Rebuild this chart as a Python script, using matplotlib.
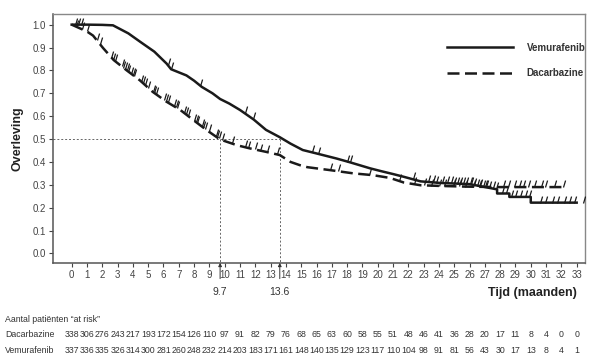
import numpy as np
import matplotlib
matplotlib.use("Agg")
import matplotlib.pyplot as plt
from matplotlib.path import Path
from matplotlib.transforms import blended_transform_factory

plt.rcParams['font.family'] = ['Liberation Sans', 'DejaVu Sans']

# Kaplan-Meier curves
vem_t = [0, 1.0, 2.0, 2.7, 3.7, 4.5, 5.4, 6.2, 6.5, 7.5, 8.0, 8.5, 9.2, 9.7, 10.3,
         11.0, 11.9, 12.7, 13.6, 14.3, 15.1, 16.0, 17.3, 18.2, 19.5, 20.2, 21.0,
         21.7, 22.8, 24.1, 26.0, 27.8, 27.8, 28.6, 28.6, 30.0, 30.0, 33.0]
vem_s = [1.0, 1.0, 0.999, 0.997, 0.962, 0.924, 0.882, 0.83, 0.805, 0.778, 0.755,
         0.728, 0.70, 0.675, 0.655, 0.627, 0.585, 0.54, 0.508, 0.48, 0.452, 0.437,
         0.415, 0.398, 0.372, 0.36, 0.347, 0.335, 0.315, 0.308, 0.303, 0.28,
         0.262, 0.262, 0.247, 0.247, 0.222, 0.222]
dac_t = [0, 0.5, 1.0, 1.4, 2.05, 2.75, 3.6, 4.45, 5.3, 6.2, 7.1, 7.95, 8.8, 9.7,
         10.8, 11.65, 12.7, 13.6, 14.3, 14.9, 15.4, 16.9, 18.4, 19.7, 20.8,
         21.7, 22.8, 24.1, 25.8, 27.8, 32.1]
dac_s = [1.0, 0.985, 0.97, 0.952, 0.898, 0.845, 0.80, 0.757, 0.706, 0.663, 0.627,
         0.583, 0.54, 0.498, 0.473, 0.459, 0.444, 0.43, 0.40, 0.386, 0.377, 0.364,
         0.35, 0.342, 0.33, 0.31, 0.298, 0.295, 0.292, 0.29, 0.29]

# censoring times
vem_cens = [0.2, 0.4, 0.6, 6.3, 6.5, 8.4, 11.3, 11.85, 15.7, 16.1, 18.0, 18.2,
            22.3, 23.3, 23.6, 23.8, 24.2, 24.5, 24.8, 25.0, 25.2, 25.4, 25.6,
            25.8, 26.0, 26.1, 26.3, 26.5, 26.7, 26.9, 27.1, 27.3, 27.5, 27.7,
            28.1, 28.4, 28.7, 29.0, 29.3, 29.6, 29.9, 30.6, 30.9, 31.4, 31.7,
            32.2, 32.5, 32.8, 33.4]
dac_cens = [0.3, 0.65, 0.98, 1.63, 1.85, 2.6, 2.72, 2.83, 3.27, 3.38, 3.48, 3.6,
            3.7, 3.9, 4.0, 4.1, 4.55, 4.66, 4.77, 4.99, 5.3, 5.4, 5.5, 6.05,
            6.16, 6.27, 6.7, 6.8, 6.9, 7.36, 7.46, 7.57, 8.0, 8.1, 8.2, 8.5,
            8.6, 8.7, 8.95, 9.4, 9.5, 9.6, 9.8, 10.47, 11.3, 11.5, 11.97, 12.3,
            12.75, 13.4, 16.9, 17.4, 19.4, 21.4, 22.4, 23.0, 23.5, 24.0, 24.3,
            24.9, 25.3, 25.7, 26.2, 26.6, 27.0, 28.2, 28.5, 28.9, 29.2, 29.5,
            29.8, 30.2, 30.7, 30.95, 31.5, 32.1]

months = list(range(34))
risk_dac = [338, 306, 276, 243, 217, 193, 172, 154, 126, 110, 97, 91, 82, 79, 76,
            68, 65, 63, 60, 58, 55, 51, 48, 46, 41, 36, 28, 20, 17, 11, 8, 4, 0, 0]
risk_vem = [337, 336, 335, 326, 314, 300, 281, 260, 248, 232, 214, 203, 183, 171,
            161, 148, 140, 135, 129, 123, 117, 110, 104, 98, 91, 81, 56, 43, 30,
            17, 13, 8, 4, 1]

median_dac = 9.7
median_vem = 13.6

fig = plt.figure(figsize=(5.94, 3.62), dpi=100)
ax = fig.add_axes([0.0887, 0.274, 0.8963, 0.687])
ax.set_xlim(-1.24, 33.55)
ax.set_ylim(-0.041, 1.046)

cens_marker = Path([(0, 0), (0.3, 1)], [Path.MOVETO, Path.LINETO])
dash = (4.8, 2.2)

ax.plot(vem_t, vem_s, color='#1a1a1a', lw=1.8, label='Vemurafenib', zorder=3)
ax.plot(dac_t, dac_s, color='#1a1a1a', lw=1.8, dashes=dash,
        label='Dacarbazine', zorder=3)
ax.plot(vem_cens, np.interp(vem_cens, vem_t, vem_s), ls='none',
        marker=cens_marker, ms=10, mew=0.9, mec='#1a1a1a', zorder=4)
ax.plot(dac_cens, np.interp(dac_cens, dac_t, dac_s), ls='none',
        marker=cens_marker, ms=10, mew=0.9, mec='#1a1a1a', zorder=4)

# median reference lines
ref = dict(color='#666666', lw=0.7, ls=(0, (2, 2)), zorder=2)
ax.plot([-1.24, median_vem], [0.5, 0.5], **ref)
ax.plot([median_dac, median_dac], [0.5, -0.041], **ref)
ax.plot([median_vem, median_vem], [0.5, -0.041], **ref)
for m in (median_dac, median_vem):
    ax.annotate(str(m), xy=(m, 0), xycoords=('data', 'axes fraction'),
                xytext=(0, -21), textcoords='offset points',
                ha='center', va='center', fontsize=7.5, color='#333333',
                annotation_clip=False,
                arrowprops=dict(arrowstyle='-|>', lw=0.7, color='#333333',
                                mutation_scale=5, shrinkA=4, shrinkB=0))

ax.set_xticks(months)
ax.set_yticks(np.arange(0, 1.01, 0.1))
ax.set_yticklabels([f'{v:.1f}' for v in np.arange(0, 1.01, 0.1)])
ax.tick_params(labelsize=7, colors='#444444', length=3, width=0.8, pad=2)
for side in ['left', 'bottom']:
    ax.spines[side].set_color('#555555')
    ax.spines[side].set_linewidth(1.1)
for side in ['top', 'right']:
    ax.spines[side].set_color('#888888')
    ax.spines[side].set_linewidth(1.0)

ax.set_ylabel('Overleving', fontsize=9, fontweight='bold', color='#222222')
ax.yaxis.set_label_coords(-0.055, 0.5)

leg = ax.legend(loc='upper left', bbox_to_anchor=(0.732, 0.905), frameon=False,
                handlelength=6.8, handletextpad=1.35, labelspacing=1.6,
                borderpad=0, prop={'size': 7, 'weight': 'bold'})
for txt in leg.get_texts():
    txt.set_color('#333333')

fig.text(0.896, 0.19, 'Tijd (maanden)', fontsize=9, fontweight='bold',
         color='#222222', ha='center', va='center')

# at-risk table
fig.text(0.009, 0.118, 'Aantal patiënten \u201cat risk\u201d', fontsize=6.3,
         color='#333333', va='center')
trans = blended_transform_factory(ax.transData, fig.transFigure)
for name, vals, y in [('Dacarbazine', risk_dac, 0.077), ('Vemurafenib', risk_vem, 0.033)]:
    fig.text(0.009, y, name, fontsize=6.3, color='#333333', va='center')
    for m, v in zip(months, vals):
        ax.text(m, y, str(v), transform=trans, fontsize=6.3, color='#333333',
                ha='center', va='center', clip_on=False)

fig.savefig('out.png', dpi=100)
